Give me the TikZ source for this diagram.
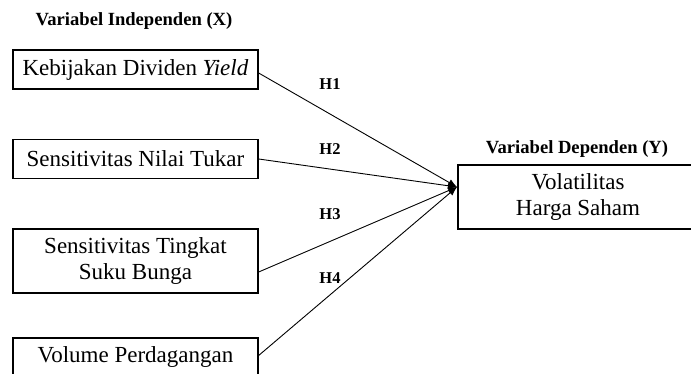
\documentclass[tikz,border=0pt]{standalone}
\usepackage{fontspec}
\setmainfont{Liberation Serif}
\usetikzlibrary{arrows.meta}
\tikzstyle{varbox}=[draw,line width=1.3pt,minimum width=245pt,minimum height=39pt,inner sep=0pt,align=center,font=\fontsize{23}{26}\selectfont]
\tikzstyle{heading}=[inner sep=0pt,font=\bfseries\fontsize{18.6}{22}\selectfont]
\tikzstyle{hyp}=[inner sep=0pt,font=\bfseries\fontsize{16.5}{19}\selectfont]
\tikzstyle{link}=[line width=0.9pt,-{Latex[length=9pt,width=7pt]}]

\begin{document}
\begin{tikzpicture}[x=1pt,y=-1pt]
\useasboundingbox (0,0) rectangle (691,374);
\clip (0,0) rectangle (691,374);
\node[heading] at (134, 21) (titlex) {Variabel Independen (X)};
\node[heading] at (577, 149) (titley) {Variabel Dependen (Y)};
\node[varbox] at (135.5, 69.5) (dividen) {Kebijakan Dividen \textit{Yield}};
\node[varbox] at (135.5, 159) (kurs) {Sensitivitas Nilai Tukar};
\node[varbox,minimum height=64pt] at (135.5, 261) (bunga) {Sensitivitas Tingkat\\Suku Bunga};
\node[varbox] at (135.5, 357.5) (volume) {Volume Perdagangan};
\node[varbox,minimum width=240pt,minimum height=64pt] at (578, 197) (saham) {Volatilitas\\Harga Saham};
\coordinate (tip) at (457, 187);
\draw ([yshift=-3.5pt]dividen.east) edge[link] (tip);
\draw (kurs.east) edge[link] (tip);
\draw ([yshift=-11pt]bunga.east) edge[link] (tip);
\draw ([yshift=2pt]volume.east) edge[link] (tip);
\node[hyp] at (330, 84) (h1) {H1};
\node[hyp] at (330, 149) (h2) {H2};
\node[hyp] at (330, 214) (h3) {H3};
\node[hyp] at (330, 278) (h4) {H4};
\end{tikzpicture}
\end{document}
